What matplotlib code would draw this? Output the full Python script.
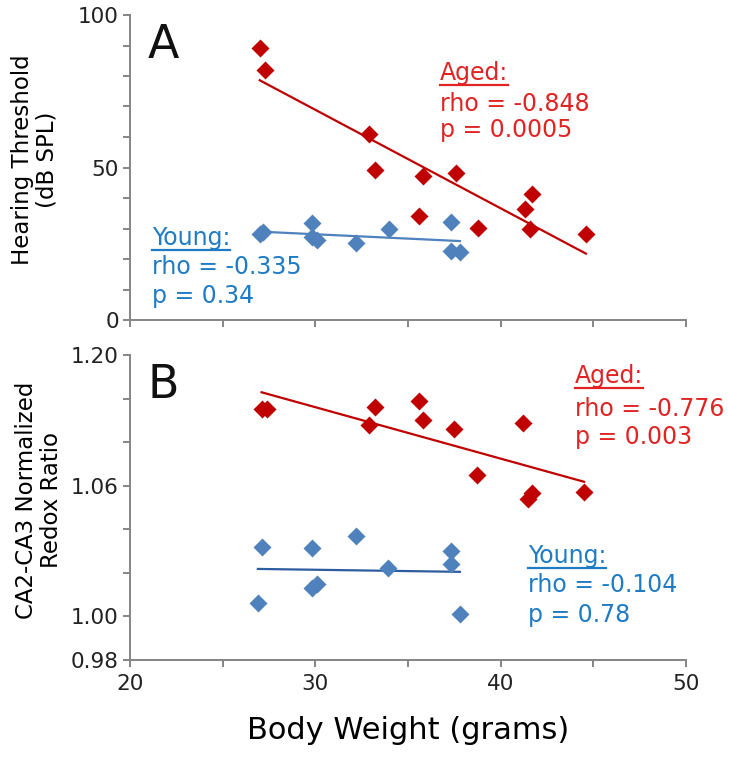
import matplotlib.pyplot as plt
from matplotlib.lines import Line2D
import numpy as np

# panel A: hearing threshold vs body weight
aged_wt_a = [27.0, 27.3, 32.9, 33.2, 35.8, 35.6, 37.6, 38.8, 41.3, 41.7, 41.6, 44.6]
aged_thr = [89.1, 82.0, 61.0, 49.2, 47.2, 34.1, 48.3, 30.3, 36.3, 41.3, 30.0, 28.2]
young_wt_a = [27.0, 27.2, 29.8, 29.8, 30.1, 32.2, 34.0, 37.3, 37.3, 37.8]
young_thr = [28.3, 29.0, 31.7, 27.3, 26.2, 25.1, 30.0, 32.2, 22.7, 22.2]

# panel B: CA2-CA3 redox ratio vs body weight
aged_wt_b = [27.1, 27.4, 32.9, 33.2, 35.6, 35.8, 37.5, 38.7, 41.2, 41.7, 41.5, 44.5]
aged_redox = [1.095, 1.095, 1.088, 1.096, 1.099, 1.090, 1.086, 1.065, 1.089, 1.0565, 1.054, 1.057]
young_wt_b = [27.1, 26.9, 29.8, 29.8, 30.1, 32.2, 33.9, 37.3, 37.3, 37.8]
young_redox = [1.032, 1.006, 1.0315, 1.013, 1.015, 1.037, 1.022, 1.030, 1.024, 1.001]

redox_ticks = [0.98, 1.00, 1.02, 1.04, 1.06, 1.08, 1.10, 1.12]
redox_labels = ['0.98', '1.00', '', '', '1.06', '', '', '1.20']

stats_a = {'aged': ('-0.848', '0.0005'), 'young': ('-0.335', '0.34')}
stats_b = {'aged': ('-0.776', '0.003'), 'young': ('-0.104', '0.78')}

red = '#c00000'
red_txt = '#e02424'
blue = '#4f81bd'
blue_txt = '#1f7cc4'
gray = '#858585'

fig = plt.figure(figsize=(7.29, 7.62), dpi=100)
ax1 = fig.add_axes([130/729, 1-320/762, 556/729, 305/762])
ax2 = fig.add_axes([130/729, 1-660/762, 556/729, 305/762])


def fit_line(ax, x, y, color):
    k, b = np.polyfit(x, y, 1)
    xs = np.array([min(x), max(x)])
    ax.plot(xs, k*xs + b, color=color, lw=1.6, zorder=2)


def style(ax):
    for s in ['top', 'right']:
        ax.spines[s].set_visible(False)
    for s in ['left', 'bottom']:
        ax.spines[s].set_color(gray)
        ax.spines[s].set_linewidth(1.4)
    ax.tick_params(which='both', direction='out', length=5, width=1.4, color=gray,
                   labelsize=15.5, labelcolor='#222222')
    ax.tick_params(axis='y', pad=3)
    ax.tick_params(axis='x', pad=5)
    ax.set_xlim(20, 50)
    ax.set_xticks([20, 30, 40, 50])
    ax.set_xticks([25, 35, 45], minor=True)


ms = 9
# panel A
fit_line(ax1, aged_wt_a, aged_thr, red)
fit_line(ax1, young_wt_a, young_thr, blue)
ax1.plot(aged_wt_a, aged_thr, 'D', color=red, ms=ms, mec='none', zorder=3)
ax1.plot(young_wt_a, young_thr, 'D', color=blue, ms=ms, mec='none', zorder=3)
style(ax1)
ax1.set_ylim(0, 100)
ax1.set_yticks([0, 50, 100])
ax1.set_yticks(range(10, 100, 10), minor=True)
ax1.set_xticklabels([])

# panel B
fit_line(ax2, aged_wt_b, aged_redox, red)
fit_line(ax2, young_wt_b, young_redox, '#2e5d9f')
ax2.plot(aged_wt_b, aged_redox, 'D', color=red, ms=ms, mec='none', zorder=3)
ax2.plot(young_wt_b, young_redox, 'D', color=blue, ms=ms, mec='none', zorder=3)
style(ax2)
ax2.set_ylim(0.98, 1.12)
ax2.set_yticks(redox_ticks)
ax2.set_yticklabels(redox_labels)
ax2.set_xlabel('Body Weight (grams)', fontsize=22, labelpad=16)

ax1.text(0.032, 0.859, 'A', transform=ax1.transAxes, fontsize=33, color='#111111')
ax2.text(0.032, 0.859, 'B', transform=ax2.transAxes, fontsize=33, color='#111111')

fig.text(35/729, 1-160/762, 'Hearing Threshold\n(dB SPL)', rotation=90, ha='center',
         va='center', fontsize=16.5, multialignment='center', linespacing=1.1)
fig.text(39/729, 1-500/762, 'CA2-CA3 Normalized\nRedox Ratio', rotation=90, ha='center',
         va='center', fontsize=16.5, multialignment='center', linespacing=1.1)

heads = []


def block(ax, x, ys, title, stats, color):
    t = ax.text(x, ys[0], title, transform=ax.transAxes, fontsize=17, color=color, va='baseline')
    ax.text(x, ys[1], 'rho = ' + stats[0], transform=ax.transAxes, fontsize=17, color=color, va='baseline')
    ax.text(x, ys[2], 'p = ' + stats[1], transform=ax.transAxes, fontsize=17, color=color, va='baseline')
    heads.append((ax, t, ys[0], color))


block(ax1, 0.5576, [0.787, 0.685, 0.600], 'Aged:', stats_a['aged'], red_txt)
block(ax1, 0.0396, [0.246, 0.151, 0.056], 'Young:', stats_a['young'], blue_txt)
block(ax2, 0.800, [0.908, 0.800, 0.708], 'Aged:', stats_b['aged'], red_txt)
block(ax2, 0.716, [0.318, 0.223, 0.125], 'Young:', stats_b['young'], blue_txt)

# underline the group headings
fig.canvas.draw()
r = fig.canvas.get_renderer()
W, H = fig.bbox.width, fig.bbox.height
for ax, t, y, c in heads:
    bb = t.get_window_extent(r)
    base = ax.transAxes.transform((0, y))[1] - 5
    fig.add_artist(Line2D([bb.x0 / W, bb.x1 / W], [base / H, base / H],
                          transform=fig.transFigure, color=c, lw=1.6))

plt.savefig('out.png', dpi=100)
